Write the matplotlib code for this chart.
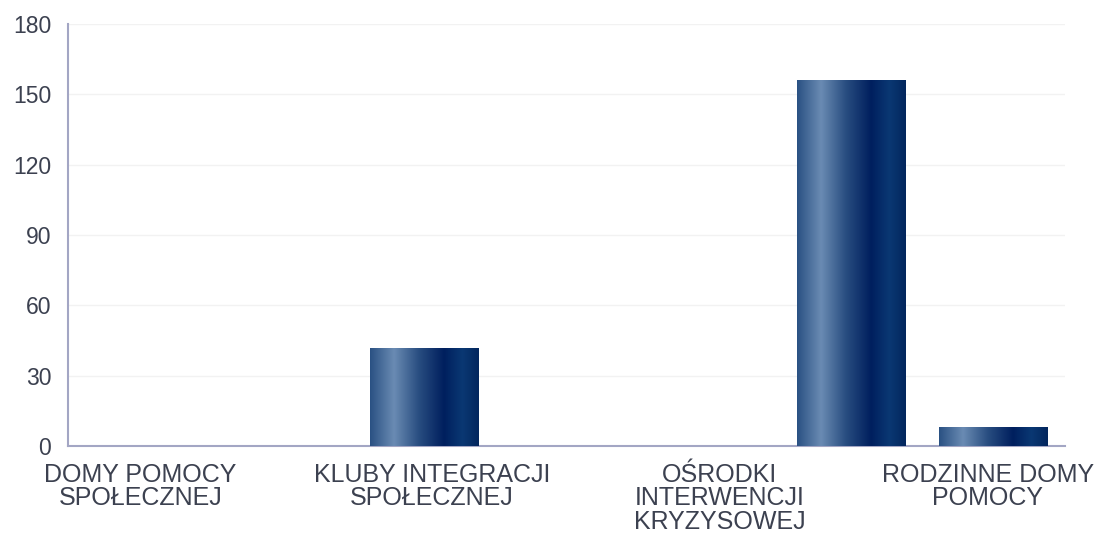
import numpy as np
import matplotlib.pyplot as plt
import matplotlib.transforms as mtransforms
from matplotlib.colors import LinearSegmentedColormap

plt.rcParams['font.family'] = ['Liberation Sans', 'DejaVu Sans']

# 7 kategorii, etykiety tylko co druga (tak jak na oryginale)
categories = ['DOMY POMOCY\nSPOŁECZNEJ', '', 'KLUBY INTEGRACJI\nSPOŁECZNEJ', '',
              'OŚRODKI\nINTERWENCJI\nKRYZYSOWEJ', '', 'RODZINNE DOMY\nPOMOCY']
values = [0, 0, 42, 0, 0, 156, 8]
yticks = [0, 30, 60, 90, 120, 150, 180]

# gradient "walca" na słupkach
cmap = LinearSegmentedColormap.from_list('navy', [
    (0.0, '#2a5183'), (0.22, '#6a8bb3'), (0.45, '#284d80'),
    (0.68, '#001f5e'), (0.85, '#0a3873'), (1.0, '#03265d')])
grad = np.linspace(0, 1, 256).reshape(1, -1)

fig = plt.figure(figsize=(11.08, 5.35), dpi=100)
ax = fig.add_axes([0.0614, 0.1664, 0.8996, 0.7886])

x = np.arange(len(categories))
bars = ax.bar(x, values, width=0.76, color='#0b3a75', zorder=2)
for b in bars:
    if b.get_height() <= 0:
        continue
    x0, y0 = b.get_x(), b.get_y()
    im = ax.imshow(grad, cmap=cmap, aspect='auto', zorder=3,
                   extent=[x0, x0 + b.get_width(), y0, y0 + b.get_height()])
    im.set_clip_path(b)

ax.set_xlim(-0.5, 6.5)
ax.set_ylim(0, 180)
ax.set_yticks(yticks)
ax.set_yticklabels([str(t) for t in yticks])
ax.yaxis.grid(True, color='#f2f2f2', linewidth=1, zorder=0)
ax.set_axisbelow(True)

ax.set_xticks(x[::2])
ax.set_xticklabels(categories[::2], linespacing=0.98)
ax.tick_params(axis='both', length=0, labelcolor='#3c4150')
ax.tick_params(axis='x', labelsize=18, pad=12)
ax.tick_params(axis='y', labelsize=16.5, pad=12)

# lekkie przesunięcia etykiet jak w oryginale (px)
shifts = [1, 8, 11, -6]
for lab, dx in zip(ax.get_xticklabels(), shifts):
    lab.set_transform(lab.get_transform() +
                      mtransforms.ScaledTranslation(dx / 100, 0, fig.dpi_scale_trans))

for s in ['top', 'right']:
    ax.spines[s].set_visible(False)
for s in ['left', 'bottom']:
    ax.spines[s].set_color('#a3a6c4')
    ax.spines[s].set_linewidth(1.5)

fig.savefig('out.png', dpi=100)
